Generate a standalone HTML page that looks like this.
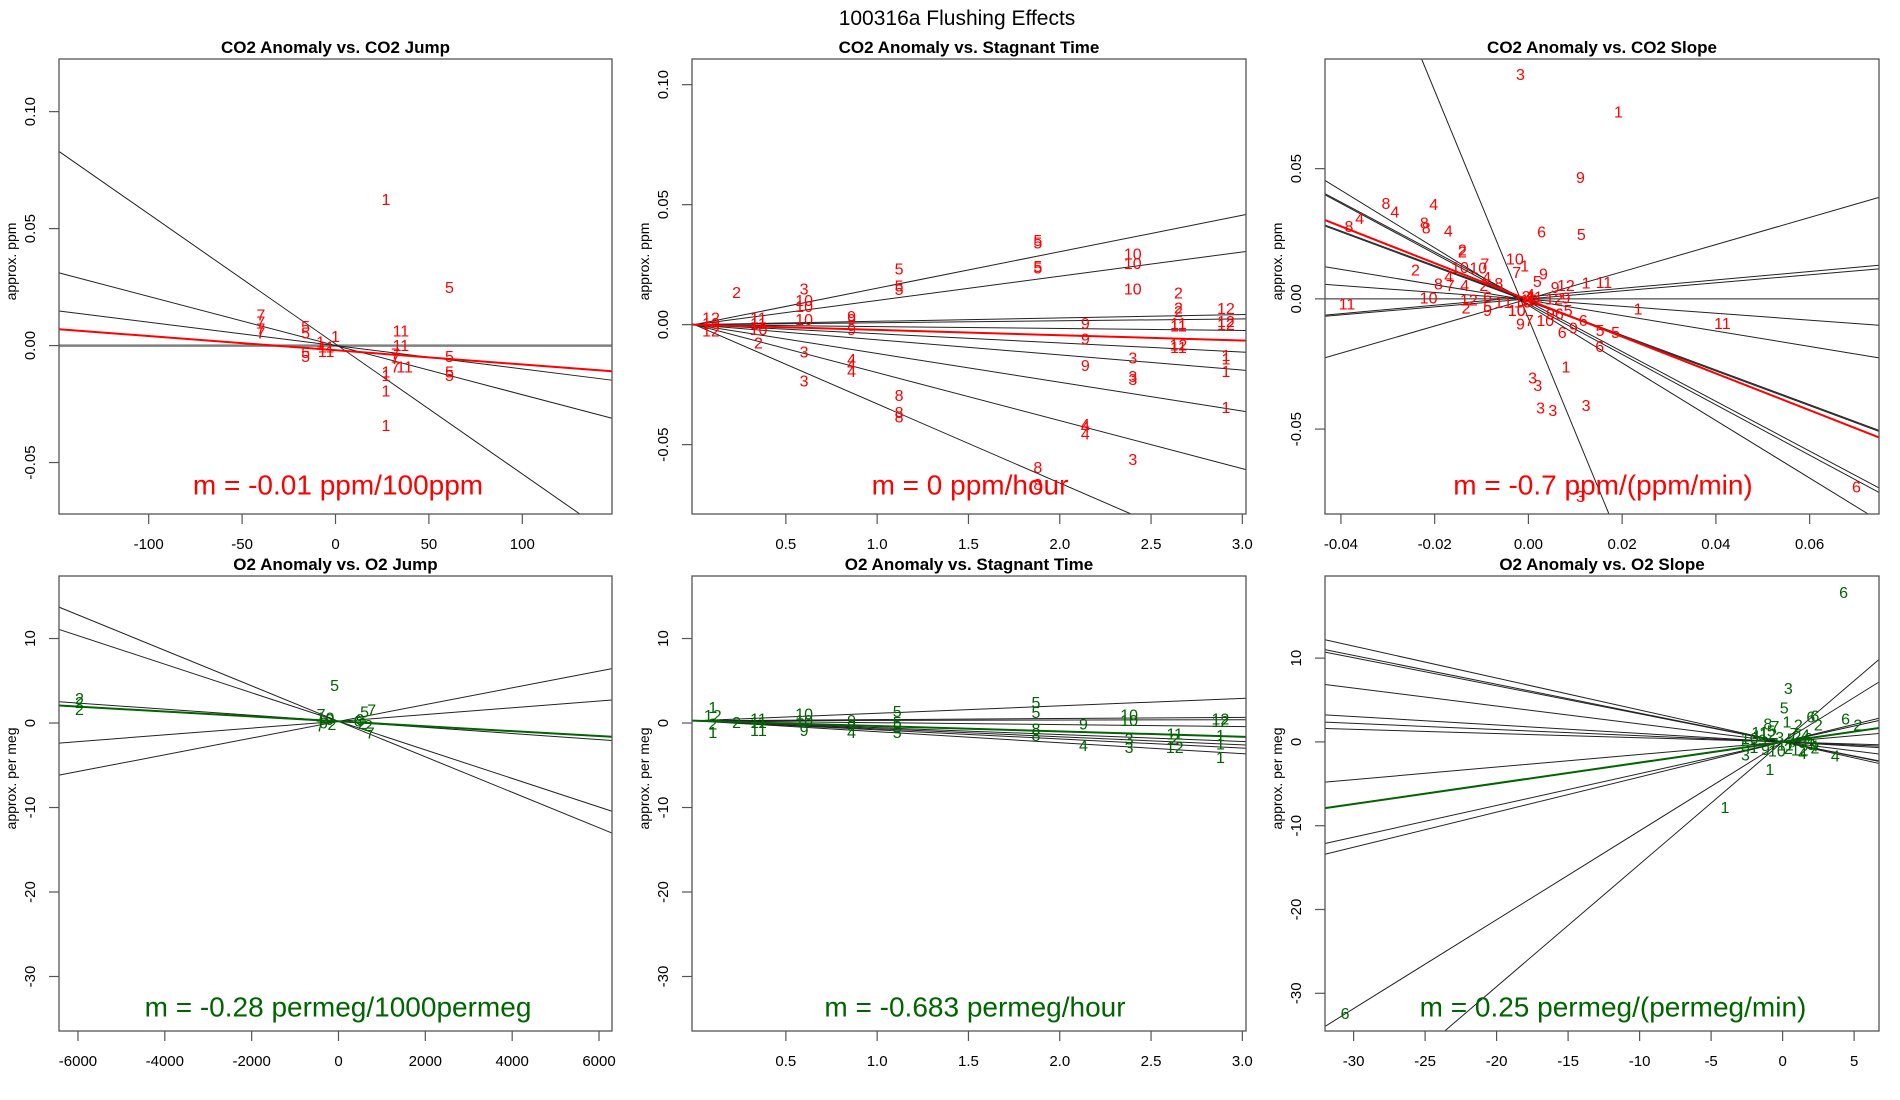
<!DOCTYPE html>
<html><head><meta charset="utf-8"><title>100316a Flushing Effects</title>
<style>
html,body{margin:0;padding:0;background:#fff;width:1900px;height:1100px;overflow:hidden;}
svg{display:block;font-family:"Liberation Sans",Arial,sans-serif;}
</style></head>
<body>
<svg id="chart" width="1900" height="1100" viewBox="0 0 1900 1100" xmlns="http://www.w3.org/2000/svg">
<rect x="0" y="0" width="1900" height="1100" fill="#fff"/>
<text x="957" y="25" font-size="21" text-anchor="middle">100316a   Flushing Effects</text>
</svg>
<script>
// ---------- Panel 1: CO2 Anomaly vs CO2 Jump ----------
const p1Labels = ["1","5","7","7","7","7","5","5","5","5","1","11","1","11","11","11","7","7","7","11","5","5","5","1","1","1","1"];
const p1X = [27,61,-40,-40,-40,-40,-16,-16,-16,-16,-8,-5,0,-5,35,35,32,32,32,37,61,61,61,27,27,27,27];
const p1Y = [0.062,0.0245,0.0127,0.0096,0.0066,0.005,0.0077,0.005,-0.0034,-0.005,0.001,-0.001,0.0035,-0.003,0.0058,-0.0003,-0.004,-0.006,-0.0095,-0.0095,-0.005,-0.0118,-0.0133,-0.0133,-0.0118,-0.0199,-0.0347];
const p1Slopes = [-0.000556,-0.00021,-0.0001];
const p1Intercepts = [0.0007,0,0];
const p1Fit = [-0.0000608,-0.002];
const p1XTicks = [-100,-50,0,50,100];
const p1XTickLabels = ["-100","-50","0","50","100"];
const p1YTicks = [-0.05,0,0.05,0.10];
const p1YTickLabels = ["-0.05","0.00","0.05","0.10"];

// ---------- Panel 2: CO2 Anomaly vs Stagnant Time ----------
const p2Labels = ["2","3","10","10","10","3","3","5","5","5","9","9","9","4","4","4","8","8","8","5","5","5","5","8","8","9","9","9","4","4","4","10","10","10","3","3","3","3","2","2","2","11","11","12","11","12","12","12","1","1","1","1","12","10","12","11","11","10","2"];
const p2X = [0.23,0.60,0.60,0.60,0.60,0.60,0.60,1.12,1.12,1.12,0.86,0.86,0.86,0.86,0.86,0.86,1.12,1.12,1.12,1.88,1.88,1.88,1.88,1.88,1.88,2.14,2.14,2.14,2.14,2.14,2.14,2.40,2.40,2.40,2.40,2.40,2.40,2.40,2.65,2.65,2.65,2.65,2.65,2.65,2.65,2.91,2.91,2.91,2.91,2.91,2.91,2.91,0.09,0.09,0.09,0.35,0.35,0.35,0.35];
const p2Y = [0.013,0.0144,0.0096,0.0072,0.0017,-0.0118,-0.0238,0.0228,0.0156,0.0142,0.003,0.0017,-0.0025,-0.015,-0.017,-0.0199,-0.030,-0.037,-0.039,0.0347,0.0336,0.0239,0.0232,-0.060,-0.067,0,-0.0064,-0.0174,-0.042,-0.043,-0.046,0.029,0.025,0.0144,-0.0143,-0.022,-0.0233,-0.0567,0.0128,0.0065,0.0051,0,-0.001,-0.0088,-0.0099,0.0063,0.001,-0.0004,-0.0133,-0.0147,-0.0199,-0.0349,0.0024,0,-0.003,0.0024,0,-0.0025,-0.008];
const p2Slopes = [0.0152,0.0101,0.0014,0.0008,-0.0008,-0.0038,-0.0063,-0.012,-0.020,-0.033];
const p2Intercepts = [0,0,0,0,0,0,0,0,0,0];
const p2Fit = [-0.0022,0];
const p2XTicks = [0.5,1.0,1.5,2.0,2.5,3.0];
const p2XTickLabels = ["0.5","1.0","1.5","2.0","2.5","3.0"];
const p2YTicks = [-0.05,0,0.05,0.10];
const p2YTickLabels = ["-0.05","0.00","0.05","0.10"];

// ---------- Panel 3: CO2 Anomaly vs CO2 Slope ----------
const p3Labels = ["3","1","9","6","5","8","4","4","4","8","8","8","4","2","2","2","10","1","10","10","7","4","4","8","7","4","2","8","9","5","7","9","12","1","11","10","11","12","2","6","5","9","1","1","10","1","11","12","9","10","10","9","7","9","6","5","6","9","6","5","5","6","1","3","3","3","3","3","3","6","2","1","12","11","10","4"];
const p3X = [-0.0017,0.0192,0.0111,0.0028,0.0113,-0.0304,-0.0285,-0.0202,-0.036,-0.0383,-0.0222,-0.0218,-0.0171,-0.0141,-0.0141,-0.0241,-0.0029,-0.0008,-0.0146,-0.0107,-0.0093,-0.017,-0.0089,-0.0192,-0.0167,-0.0136,-0.0095,-0.0063,0.0032,0.0019,-0.0025,0.0057,0.008,0.0123,0.0161,-0.0213,-0.0387,-0.0127,-0.0133,-0.0087,-0.0087,-0.0087,-0.0063,-0.0044,-0.0025,0.0234,0.0414,0.0055,0.008,0.0036,-0.0025,-0.0017,0.0002,0.0047,0.0066,0.0085,0.0117,0.0096,0.0072,0.0153,0.0186,0.0152,0.008,0.0009,0.002,0.0026,0.0052,0.0123,0.0111,0.07,-0.0005,0.0008,0.0002,0.0013,-0.0012,0.0004];
const p3Y = [0.0858,0.0714,0.0462,0.0253,0.0244,0.0362,0.033,0.0359,0.0305,0.0274,0.0287,0.0268,0.0257,0.0183,0.0177,0.0107,0.0149,0.0123,0.0117,0.0114,0.013,0.0082,0.0079,0.0053,0.0047,0.0047,0.0047,0.0056,0.0091,0.0063,0.0098,0.004,0.0047,0.0057,0.0059,0,-0.0024,-0.0008,-0.0039,0.0004,-0.0034,-0.0049,-0.0017,-0.0017,-0.0049,-0.0043,-0.0098,-0.0004,0,-0.0087,-0.0049,-0.01,-0.0087,-0.0062,-0.0062,-0.0049,-0.0087,-0.0116,-0.0132,-0.0126,-0.0132,-0.0187,-0.0266,-0.0307,-0.0336,-0.0422,-0.0432,-0.0413,-0.0762,-0.0726,0.0005,0.0002,-0.0008,0.0003,-0.0015,0.0012];
const p3Slopes = [-4.37,-1.105,-0.956,-0.967,-0.667,-0.667,-0.296,-0.133,0,0.162,0.154,0.521];
const p3Intercepts = [-0.0075,-0.0025,-0.0011,-0.002,-0.0006,-0.001,-0.0005,-0.0002,0,0.0008,0,0];
const p3Fit = [-0.706,-0.0004];
const p3XTicks = [-0.04,-0.02,0,0.02,0.04,0.06];
const p3XTickLabels = ["-0.04","-0.02","0.00","0.02","0.04","0.06"];
const p3YTicks = [-0.05,0,0.05];
const p3YTickLabels = ["-0.05","0.00","0.05"];

// ---------- Panel 4: O2 Anomaly vs O2 Jump ----------
const p4Labels = ["2","2","2","5","7","10","9","6","2","7","5","9","7","2","7","6","2"];
const p4X = [-5965,-5965,-5965,-90,-400,-300,-200,-350,-150,765,600,500,730,690,-420,450,550];
const p4Y = [2.8,2.3,1.5,4.3,0.9,0.5,0.3,-0.1,-0.3,1.4,1.2,0.3,-1.3,-0.4,-0.5,0.1,-0.2];
const p4Slopes = [-0.0021,-0.00169,-0.00036,0.0004,0.00099];
const p4Intercepts = [0.2,0.2,0.2,0.2,0.2];
const p4Fit = [-0.00029,0.2];
const p4XTicks = [-6000,-4000,-2000,0,2000,4000,6000];
const p4XTickLabels = ["-6000","-4000","-2000","0","2000","4000","6000"];
const p4YTicks = [-30,-20,-10,0,10];
const p4YTickLabels = ["-30","-20","-10","0","10"];

// ---------- Panel 5: O2 Anomaly vs Stagnant Time ----------
const p5Labels = ["1","12","2","1","2","11","11","11","10","10","9","9","9","4","5","5","5","5","5","5","8","8","9","4","10","10","3","3","11","2","12","12","12","1","1","1"];
const p5X = [0.10,0.10,0.10,0.10,0.23,0.35,0.35,0.35,0.60,0.60,0.60,0.86,0.86,0.86,1.11,1.11,1.11,1.11,1.87,1.87,1.87,1.87,2.13,2.13,2.38,2.38,2.38,2.38,2.63,2.63,2.63,2.88,2.88,2.88,2.88,2.88];
const p5Y = [1.73,0.75,-0.24,-1.22,-0.04,0.36,-0.04,-1.0,0.95,0.16,-1.0,0.16,-0.43,-1.22,1.26,-0.04,-0.63,-1.22,2.33,1.14,-0.83,-1.62,-0.24,-2.8,0.85,0.16,-2.0,-3.0,-1.42,-2.0,-3.0,0.36,0.04,-1.62,-2.6,-4.18];
const p5Slopes = [0.88,0.13,0.04,-0.23,-0.82,-0.95,-1.08,-1.3];
const p5Intercepts = [0.27,0.27,0.27,0.27,0.27,0.27,0.27,0.27];
const p5Fit = [-0.63,0.27];
const p5XTicks = [0.5,1.0,1.5,2.0,2.5,3.0];
const p5XTickLabels = ["0.5","1.0","1.5","2.0","2.5","3.0"];
const p5YTicks = [-30,-20,-10,0,10];
const p5YTickLabels = ["-30","-20","-10","0","10"];

// ---------- Panel 6: O2 Anomaly vs O2 Slope ----------
const p6Labels = ["6","3","5","1","2","6","6","2","6","2","4","1","1","6","3","5","8","7","4","2","10","1","9","12","7","3","11","5","2","8","6","4","1","9","10","2","12","3","11","5","7","4"];
const p6X = [4.26,0.4,0.11,0.3,1.1,1.97,2.26,2.5,4.4,5.26,3.69,-0.89,-4.03,-30.6,-2.6,-2.6,-1.03,-0.54,1.4,2.26,-2.3,-1.8,-1.4,-1.0,-0.6,-0.2,0.2,0.6,1.0,1.4,1.8,2.2,-2.0,-1.2,-0.4,0.4,1.2,2.0,-1.6,-0.8,0.8,1.6];
const p6Y = [17.7,6.26,3.9,2.26,1.9,2.85,3.0,1.9,2.64,1.9,-1.79,-3.4,-7.96,-32.55,-1.7,-0.6,2.0,1.7,-1.5,-0.85,0.3,0.6,0.1,0.8,-0.3,0.4,-0.5,0.2,0.5,-0.2,0.3,-0.6,-0.8,-1.0,-1.2,-0.9,-1.1,-0.4,1.0,1.2,0.9,0.7];
const p6Slopes = [-0.381,-0.344,-0.335,-0.214,-0.101,-0.074,-0.050,0.150,0.379,0.419,1.061,1.46];
const p6Intercepts = [0,0,0,0,0,0,0,0,0,0,0,0];
const p6Fit = [0.247,0];
const p6XTicks = [-30,-25,-20,-15,-10,-5,0,5];
const p6XTickLabels = ["-30","-25","-20","-15","-10","-5","0","5"];
const p6YTicks = [-30,-20,-10,0,10];
const p6YTickLabels = ["-30","-20","-10","0","10"];

const NS = "http://www.w3.org/2000/svg";
const svg = document.getElementById("chart");
function mk(tag, attrs, parent) {
  const e = document.createElementNS(NS, tag);
  for (const k in attrs) e.setAttribute(k, attrs[k]);
  (parent || svg).appendChild(e);
  return e;
}

// clip a line y = a + b x to the box [xlim] x [ylim]; returns [xa, xb] or null
function clipRange(a, b, xlim, ylim) {
  let lo = xlim[0], hi = xlim[1];
  if (b !== 0) {
    let x1 = (ylim[0] - a) / b, x2 = (ylim[1] - a) / b;
    if (x1 > x2) { const t = x1; x1 = x2; x2 = t; }
    lo = Math.max(lo, x1); hi = Math.min(hi, x2);
  } else if (a < ylim[0] || a > ylim[1]) return null;
  return lo < hi ? [lo, hi] : null;
}

function drawPanel(cfg) {
  const g = mk("g", {});
  
  
  const x0 = cfg.box[0], y0 = cfg.box[1], w = cfg.box[2], h = cfg.box[3];
  const sx = v => x0 + (v - cfg.xlim[0]) / (cfg.xlim[1] - cfg.xlim[0]) * w;
  const sy = v => y0 + h - (v - cfg.ylim[0]) / (cfg.ylim[1] - cfg.ylim[0]) * h;
  const plot = mk("g", {}, g);

  function fitLine(a, b, stroke, sw) {
    const r = clipRange(a, b, cfg.xlim, cfg.ylim);
    if (!r) return null;
    return mk("line", {x1: sx(r[0]), y1: sy(a + b * r[0]), x2: sx(r[1]), y2: sy(a + b * r[1]), stroke: stroke, "stroke-width": sw}, plot);
  }

  if (cfg.ref) {
    const rl = fitLine(0, 0, "#808080", 2.5);
    
    
  }
  for (let i = 0; i < cfg.slopes.length; i++) {
    const ln = fitLine(cfg.intercepts[i], cfg.slopes[i], "#222", 1);
    if (!ln) continue;
    
    
  }
  for (let i = 0; i < cfg.labels.length; i++) {
    const t = mk("text", {x: sx(cfg.xs[i]), y: sy(cfg.ys[i]), fill: cfg.color, "font-size": 16, "text-anchor": "middle", "dominant-baseline": "central"}, plot);
    t.textContent = cfg.labels[i];
    
    
  }
  const fl = fitLine(cfg.fit[1], cfg.fit[0], cfg.color, 2);
  
  

  const bx = mk("rect", {x: x0, y: y0, width: w, height: h, fill: "none", stroke: "#555", "stroke-width": 1.3}, g);
  
  

  const tt = mk("text", {x: x0 + w / 2, y: y0 - 6, "font-size": 17, "font-weight": "bold", "text-anchor": "middle"}, g);
  tt.textContent = cfg.title;
  
  

  for (let i = 0; i < cfg.xticks.length; i++) {
    const px = sx(cfg.xticks[i]);
    const tk = mk("line", {x1: px, y1: y0 + h, x2: px, y2: y0 + h + 10, stroke: "#555", "stroke-width": 1.2}, g);
    
    
    const tl = mk("text", {x: px, y: y0 + h + 35, "font-size": 15, "text-anchor": "middle"}, g);
    tl.textContent = cfg.xtickLabels[i];
    
    
  }
  for (let i = 0; i < cfg.yticks.length; i++) {
    const py = sy(cfg.yticks[i]);
    if (py < y0 - 1 || py > y0 + h + 1) continue;
    const tk = mk("line", {x1: x0 - 10, y1: py, x2: x0, y2: py, stroke: "#555", "stroke-width": 1.2}, g);
    
    
    const tl = mk("text", {x: 0, y: 0, "font-size": 15, "text-anchor": "middle", transform: "translate(" + (x0 - 24) + "," + py + ") rotate(-90)"}, g);
    tl.textContent = cfg.ytickLabels[i];
    
    
  }
  const yt = mk("text", {x: 0, y: 0, "font-size": 14, "text-anchor": "middle", transform: "translate(" + (x0 - 43) + "," + (y0 + h / 2 - 25) + ") rotate(-90)"}, g);
  yt.textContent = cfg.ylab;
  
  

  const an = mk("text", {x: cfg.ann[0], y: cfg.ann[1], fill: cfg.color, "font-size": 28, "text-anchor": "middle", "dominant-baseline": "central"}, g);
  an.textContent = cfg.annText;
  
  
}

const RED = "#ff0000", GREEN = "#006400";
drawPanel({name: "panel-co2-jump", box: [59, 59, 553, 455], xlim: [-148, 148], ylim: [-0.072, 0.1225], color: RED, ref: true,
  labels: p1Labels, xs: p1X, ys: p1Y, slopes: p1Slopes, intercepts: p1Intercepts, fit: p1Fit,
  xticks: p1XTicks, xtickLabels: p1XTickLabels, yticks: p1YTicks, ytickLabels: p1YTickLabels,
  title: "CO2 Anomaly vs. CO2 Jump", ylab: "approx. ppm", ann: [338, 485], annText: "m = -0.01 ppm/100ppm"});
drawPanel({name: "panel-co2-stagnant", box: [692, 59, 554, 455], xlim: [-0.014, 3.02], ylim: [-0.0789, 0.1107], color: RED,
  labels: p2Labels, xs: p2X, ys: p2Y, slopes: p2Slopes, intercepts: p2Intercepts, fit: p2Fit,
  xticks: p2XTicks, xtickLabels: p2XTickLabels, yticks: p2YTicks, ytickLabels: p2YTickLabels,
  title: "CO2 Anomaly vs. Stagnant Time", ylab: "approx. ppm", ann: [970, 485], annText: "m = 0 ppm/hour"});
drawPanel({name: "panel-co2-slope", box: [1325, 59, 554, 455], xlim: [-0.0434, 0.0748], ylim: [-0.0826, 0.0921], color: RED,
  labels: p3Labels, xs: p3X, ys: p3Y, slopes: p3Slopes, intercepts: p3Intercepts, fit: p3Fit,
  xticks: p3XTicks, xtickLabels: p3XTickLabels, yticks: p3YTicks, ytickLabels: p3YTickLabels,
  title: "CO2 Anomaly vs. CO2 Slope", ylab: "approx. ppm", ann: [1603, 485], annText: "m = -0.7 ppm/(ppm/min)"});
drawPanel({name: "panel-o2-jump", box: [59, 576, 553, 455], xlim: [-6437, 6299], ylim: [-36.45, 17.4], color: GREEN,
  labels: p4Labels, xs: p4X, ys: p4Y, slopes: p4Slopes, intercepts: p4Intercepts, fit: p4Fit,
  xticks: p4XTicks, xtickLabels: p4XTickLabels, yticks: p4YTicks, ytickLabels: p4YTickLabels,
  title: "O2 Anomaly vs. O2 Jump", ylab: "approx. per meg", ann: [338, 1007], annText: "m = -0.28 permeg/1000permeg"});
drawPanel({name: "panel-o2-stagnant", box: [692, 576, 554, 455], xlim: [-0.014, 3.02], ylim: [-36.45, 17.4], color: GREEN,
  labels: p5Labels, xs: p5X, ys: p5Y, slopes: p5Slopes, intercepts: p5Intercepts, fit: p5Fit,
  xticks: p5XTicks, xtickLabels: p5XTickLabels, yticks: p5YTicks, ytickLabels: p5YTickLabels,
  title: "O2 Anomaly vs. Stagnant Time", ylab: "approx. per meg", ann: [975, 1007], annText: "m = -0.683 permeg/hour"});
drawPanel({name: "panel-o2-slope", box: [1325, 576, 554, 455], xlim: [-32.0, 6.74], ylim: [-34.5, 19.8], color: GREEN,
  labels: p6Labels, xs: p6X, ys: p6Y, slopes: p6Slopes, intercepts: p6Intercepts, fit: p6Fit,
  xticks: p6XTicks, xtickLabels: p6XTickLabels, yticks: p6YTicks, ytickLabels: p6YTickLabels,
  title: "O2 Anomaly vs. O2 Slope", ylab: "approx. per meg", ann: [1613, 1007], annText: "m = 0.25 permeg/(permeg/min)"});
</script>
</body></html>
